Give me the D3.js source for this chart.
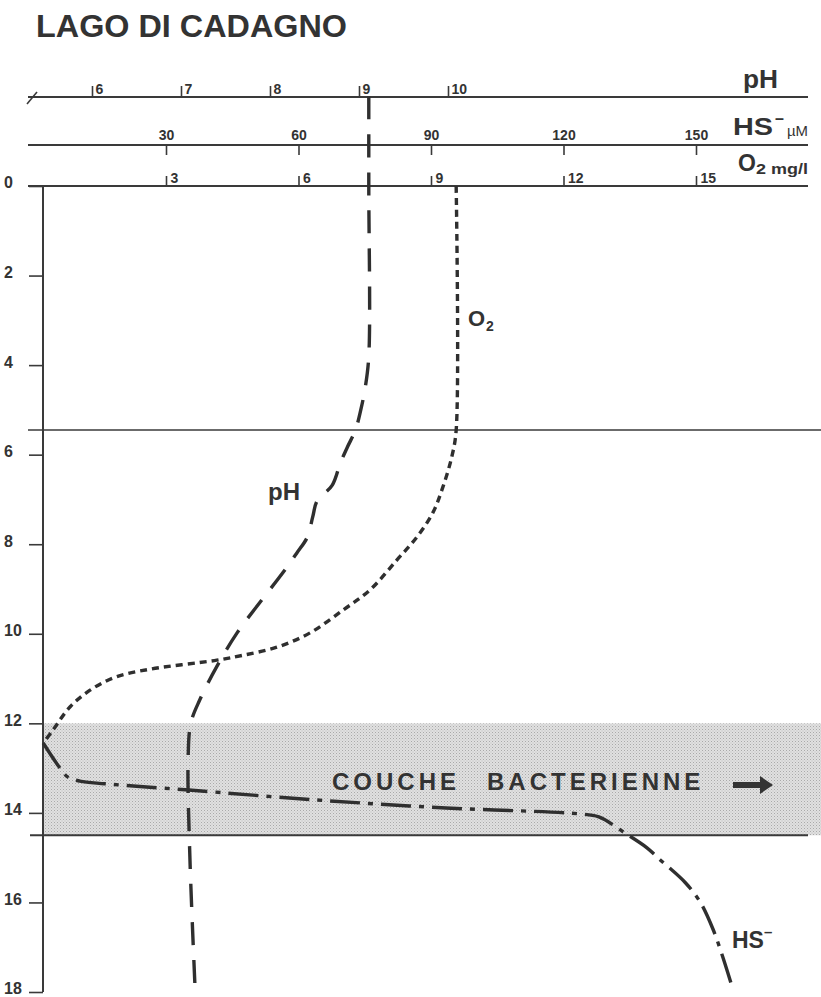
<!DOCTYPE html>
<html>
<head>
<meta charset="utf-8">
<script src="https://cdn.jsdelivr.net/npm/d3@7"></script>
<style>
  body { margin: 0; background: #fff; }
  svg { font-family: "Liberation Sans", Arial, sans-serif; }
  .ax path { display: none; }
  .ax line { stroke: #3a3a3a; stroke-width: 1.6; }
  .ax text { fill: #333; font-weight: bold; font-family: "Liberation Sans", Arial, sans-serif; }
</style>
</head>
<body>
<div id="graph"></div>
<script>
"use strict";

// depth ticks (m)
var depthTicks = [0, 2, 4, 6, 8, 10, 12, 14, 16, 18];
var phTicks = [6, 7, 8, 9, 10];
var hsTicks = [30, 60, 90, 120, 150];
var o2Ticks = [3, 6, 9, 12, 15];

// [depth m, pH]
var phProfile = [
    [-2, 9.11], [0, 9.11], [3.8, 9.11], [4.5, 9.07], [5.0, 9.02], [5.45, 8.96],
    [5.83, 8.87], [6.19, 8.79], [6.68, 8.70], [7.03, 8.53], [7.39, 8.48],
    [7.84, 8.42], [8.2, 8.30], [8.62, 8.15], [9.29, 7.89], [9.98, 7.63],
    [10.74, 7.40], [11.48, 7.21], [12.0, 7.11], [12.8, 7.08], [15.0, 7.10],
    [18.0, 7.16]
];

// [depth m, O2 mg/l]
var o2Profile = [
    [0, 9.57], [5.45, 9.57], [6.05, 9.47], [6.72, 9.27], [7.30, 9.04],
    [7.84, 8.68], [8.35, 8.23], [9.02, 7.62], [9.47, 7.01], [9.98, 6.26],
    [10.30, 5.51], [10.48, 4.74], [10.59, 4.15], [10.79, 2.64], [10.97, 1.85],
    [11.26, 1.28], [11.63, 0.83], [12.15, 0.44], [12.44, 0.22]
];

// [depth m, HS- µM]
var hsProfile = [
    [12.44, 2.2], [13.0, 6.0], [13.2, 7.8], [13.29, 10.5], [13.35, 16.2],
    [13.49, 35.2], [13.71, 63.7], [13.89, 93.4], [14.02, 123.3], [14.09, 128.0],
    [14.45, 133.9], [14.78, 138.9], [15.05, 141.9], [15.56, 147.6],
    [16.0, 151.0], [16.61, 153.9], [17.17, 155.9], [17.89, 158.2]
];

// bacterial layer and mixolimnion limit (m)
var bacterialLayer = [12.0, 14.5];
var chemocline = 5.45;

var W = 821, H = 997;
var ink = "#333";

var svg = d3.select("#graph").append("svg")
    .attr("width", W).attr("height", H);

var y = d3.scaleLinear().domain([0, 18]).range([186, 992]);
var xPH = d3.scaleLinear().domain([6, 10]).range([92, 448]);
var xHS = d3.scaleLinear().domain([30, 150]).range([166, 696]);
var xO2 = d3.scaleLinear().domain([3, 15]).range([166, 696]);

var axisX0 = 43, lineL = 28, lineR = 808;
var yPH = 97, yHS = 145, yO2 = y(0);

// dotted fill for the bacterial layer
var pat = svg.append("defs").append("pattern")
    .attr("id", "dots").attr("width", 3).attr("height", 3)
    .attr("patternUnits", "userSpaceOnUse");
pat.append("rect").attr("width", 3).attr("height", 3).attr("fill", "#e0e0e0");
pat.append("rect").attr("width", 1).attr("height", 1).attr("fill", "#a9a9a9");
pat.append("rect").attr("x", 1.5).attr("y", 1.5).attr("width", 1).attr("height", 1).attr("fill", "#bdbdbd");

svg.append("rect")
    .attr("x", axisX0).attr("y", y(bacterialLayer[0]))
    .attr("width", W - axisX0).attr("height", y(bacterialLayer[1]) - y(bacterialLayer[0]))
    .attr("fill", "url(#dots)");

svg.append("line")
    .attr("x1", 30).attr("x2", lineR)
    .attr("y1", y(bacterialLayer[1])).attr("y2", y(bacterialLayer[1]))
    .attr("stroke", "#3a3a3a").attr("stroke-width", 2);

svg.append("line")
    .attr("x1", lineL).attr("x2", W)
    .attr("y1", y(chemocline)).attr("y2", y(chemocline))
    .attr("stroke", "#3a3a3a").attr("stroke-width", 1.6);

// title
svg.append("text")
    .attr("x", 36).attr("y", 37)
    .attr("font-size", 32).attr("font-weight", "bold").attr("fill", ink)
    .attr("textLength", 311).attr("lengthAdjust", "spacingAndGlyphs")
    .text("LAGO DI CADAGNO");

// top axes lines
[yPH, yHS, yO2].forEach(function (yy) {
    svg.append("line")
        .attr("x1", lineL).attr("x2", lineR).attr("y1", yy).attr("y2", yy)
        .attr("stroke", "#3a3a3a").attr("stroke-width", 1.8);
});
svg.append("line")
    .attr("x1", 27).attr("y1", yPH + 7).attr("x2", 37).attr("y2", yPH - 5)
    .attr("stroke", "#3a3a3a").attr("stroke-width", 1.6);

// pH axis
var gPH = svg.append("g").attr("class", "ax")
    .attr("transform", "translate(0," + yPH + ")")
    .call(d3.axisTop(xPH).tickValues(phTicks).tickFormat(d3.format("d"))
        .tickSize(11).tickSizeOuter(0));
gPH.selectAll("text").attr("text-anchor", "start").attr("x", 3).attr("y", -3).attr("dy", 0)
    .style("font-size", "14px");

// HS axis
var gHS = svg.append("g").attr("class", "ax")
    .attr("transform", "translate(0," + yHS + ")")
    .call(d3.axisTop(xHS).tickValues(hsTicks).tickSizeInner(-10).tickSizeOuter(0).tickPadding(0));
gHS.selectAll("text").attr("y", -5).attr("dy", 0).style("font-size", "14px");

// O2 axis
var gO2 = svg.append("g").attr("class", "ax")
    .attr("transform", "translate(0," + yO2 + ")")
    .call(d3.axisTop(xO2).tickValues(o2Ticks).tickSize(10).tickSizeOuter(0));
gO2.selectAll("text").attr("text-anchor", "start").attr("x", 4).attr("y", -3).attr("dy", 0)
    .style("font-size", "14px");

// depth axis
var gY = svg.append("g").attr("class", "ax")
    .attr("transform", "translate(" + axisX0 + ",0)")
    .call(d3.axisLeft(y).tickValues(depthTicks).tickSize(14).tickSizeOuter(0));
gY.selectAll("line").attr("stroke-width", 2);
gY.selectAll("text").attr("text-anchor", "start").attr("x", -39).attr("dy", "0.12em")
    .style("font-size", "16px");
svg.append("line")
    .attr("x1", axisX0).attr("x2", axisX0).attr("y1", y(0)).attr("y2", y(18))
    .attr("stroke", "#3a3a3a").attr("stroke-width", 2);

// axis titles
svg.append("text").attr("x", 743).attr("y", 88)
    .attr("font-size", 25).attr("font-weight", "bold").attr("fill", ink)
    .attr("textLength", 35).attr("lengthAdjust", "spacingAndGlyphs").text("pH");
svg.append("text").attr("x", 733).attr("y", 135)
    .attr("font-size", 23).attr("font-weight", "bold").attr("fill", ink)
    .attr("textLength", 40).attr("lengthAdjust", "spacingAndGlyphs").text("HS");
svg.append("text").attr("x", 775).attr("y", 124)
    .attr("font-size", 16).attr("font-weight", "bold").attr("fill", ink).text("\u2013");
svg.append("text").attr("x", 787).attr("y", 136)
    .attr("font-size", 14).attr("fill", ink)
    .attr("textLength", 21).attr("lengthAdjust", "spacingAndGlyphs").text("\u00b5M");
svg.append("text").attr("x", 738).attr("y", 171)
    .attr("font-size", 23).attr("font-weight", "bold").attr("fill", ink).text("O");
svg.append("text").attr("x", 756).attr("y", 174)
    .attr("font-size", 14).attr("font-weight", "bold").attr("fill", ink)
    .attr("textLength", 52).attr("lengthAdjust", "spacingAndGlyphs").text("2 mg/l");

// profiles
function profile(data, xs, dash) {
    var line = d3.line()
        .x(function (p) { return xs(p[1]); })
        .y(function (p) { return y(p[0]); })
        .curve(d3.curveCatmullRom.alpha(0.5));
    svg.append("path")
        .datum(data)
        .attr("d", line)
        .attr("fill", "none")
        .attr("stroke", "#2f2f2f")
        .attr("stroke-width", 3.4)
        .attr("stroke-dasharray", dash);
}

profile(phProfile, xPH, "23,15");
profile(o2Profile, xO2, "7,5");
profile(hsProfile, xHS, "30,8,5,8");

// curve labels
svg.append("text").attr("x", 268).attr("y", 500)
    .attr("font-size", 24).attr("font-weight", "bold").attr("fill", ink).text("pH");
svg.append("text").attr("x", 468).attr("y", 326)
    .attr("font-size", 22).attr("font-weight", "bold").attr("fill", ink).text("O");
svg.append("text").attr("x", 486).attr("y", 331)
    .attr("font-size", 14).attr("font-weight", "bold").attr("fill", ink).text("2");
svg.append("text").attr("x", 732).attr("y", 948)
    .attr("font-size", 23).attr("font-weight", "bold").attr("fill", ink).text("HS");
svg.append("text").attr("x", 764).attr("y", 937)
    .attr("font-size", 15).attr("font-weight", "bold").attr("fill", ink).text("\u2013");

// bacterial layer label
svg.append("text").attr("x", 332).attr("y", 790)
    .attr("font-size", 24).attr("font-weight", "bold").attr("fill", ink)
    .attr("letter-spacing", 4)
    .text("COUCHE");
svg.append("text").attr("x", 487).attr("y", 790)
    .attr("font-size", 24).attr("font-weight", "bold").attr("fill", ink)
    .attr("letter-spacing", 4)
    .text("BACTERIENNE");
svg.append("line")
    .attr("x1", 733).attr("x2", 762).attr("y1", 785).attr("y2", 785)
    .attr("stroke", ink).attr("stroke-width", 6);
svg.append("path")
    .attr("d", "M760,776 L773,785 L760,794 Z")
    .attr("fill", ink);
</script>
</body>
</html>
